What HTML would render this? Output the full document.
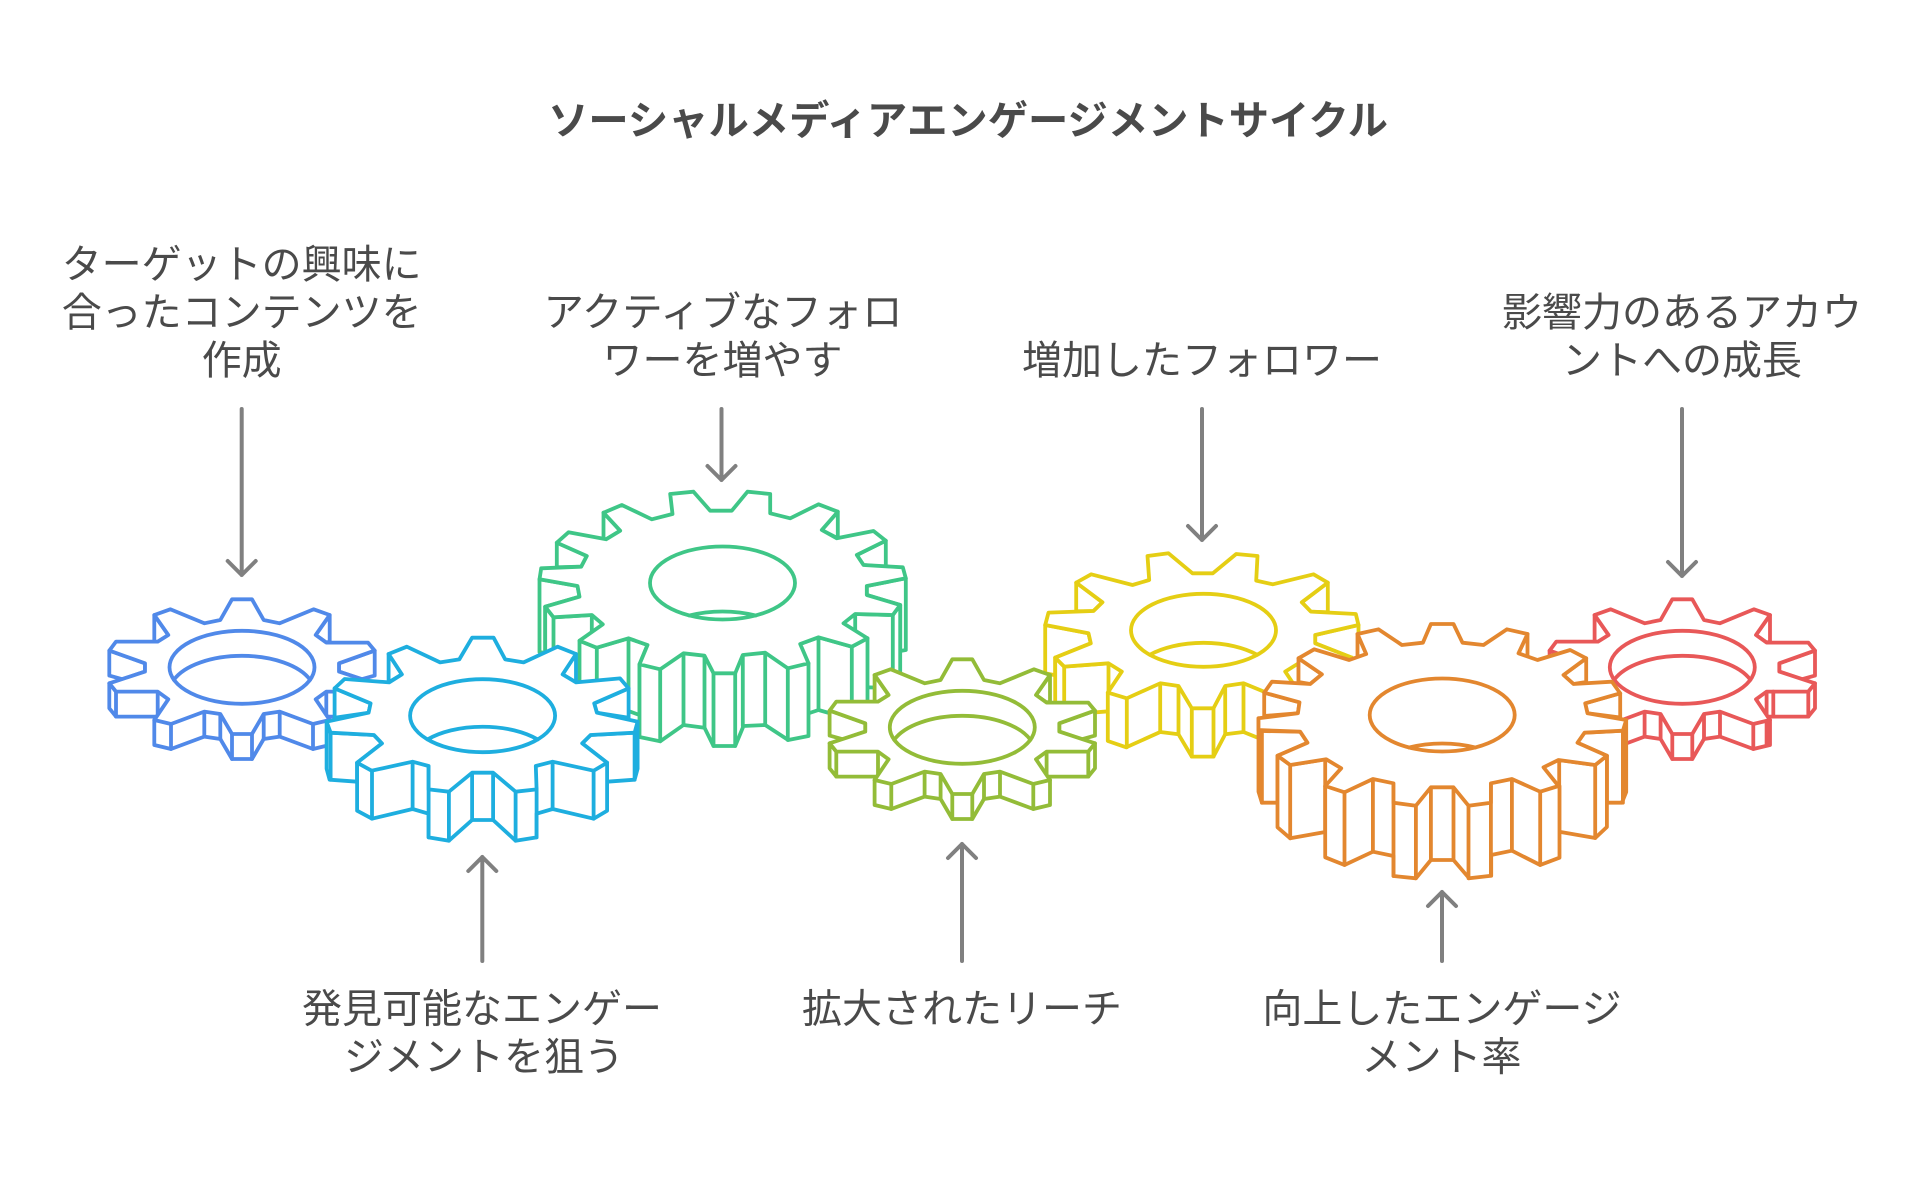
<!DOCTYPE html>
<html lang="ja"><head><meta charset="utf-8"><style>
html,body{margin:0;padding:0;background:#fff;width:1924px;height:1181px;overflow:hidden}
svg{display:block}
text{font-family:"Liberation Sans","Noto Sans CJK JP",sans-serif;font-size:40px;fill:#4a4a4a;text-anchor:middle}
.g path,.g ellipse,#sg path,#sg ellipse{fill:#fff;stroke:currentColor;stroke-width:3.8;stroke-linejoin:round;stroke-linecap:round}
.g path.v,.g path.a,#sg path.v,#sg path.a{fill:none}
.ar path{fill:none;stroke:#808080;stroke-width:4;stroke-linecap:round;stroke-linejoin:round}
</style></head><body>
<svg width="1924" height="1181" viewBox="0 0 1924 1181" xmlns="http://www.w3.org/2000/svg">
<rect width="1924" height="1181" fill="#fff"/>
<defs>
<g id="sg">
<path d="M-132.7,-16.7V8.3L-119.3,12L-97,4.3V-4Z"/>
<path d="M132.7,-16.7V8.3L119.3,12L97,4.3V-4Z"/>
<path d="M-87.7,-52.3V-25.7L-84.3,-24.7L-73.7,-32.3Z"/>
<path d="M87.7,-52.3V-25.7L84.3,-24.7L73.7,-32.3Z"/>
<path d="M-132.7,16V41L-126,49.3H-84.3V24.3H-126Z"/>
<path d="M132.7,16V41L126,49.3H84.3V24.3H126Z"/>
<path class="v" d="M-126,24.3V49.3M126,24.3V49.3"/>
<path d="M-87.7,52.7V77.7L-71,81.7L-37.7,69.3L-21.7,71.7L-10,91.7H10L21.7,71.7L37.7,69.3L71,81.7L87.7,77.7V52.7L0,0Z"/>
<path class="v" d="M-71,56.7V81.7M-37.7,44.3V69.3M-21.7,46.7V71.7M-10,66.7V91.7M10,66.7V91.7M21.7,46.7V71.7M37.7,44.3V69.3M71,56.7V81.7"/>
<path d="M-10,-68H10L21.7,-47.3L37.7,-44L71.7,-58L87.7,-52.3L73.7,-32.3L84.3,-24.7H126L132.7,-16.7L97,-4V4.3L132.7,16L126,24.3H84.3L73.7,32L87.7,52.7L71,56.7L37.7,44.3L21.7,46.7L10,66.7H-10L-21.7,46.7L-37.7,44.3L-71,56.7L-87.7,52.7L-73.7,32L-84.3,24.3H-126L-132.7,16L-97,4.3V-4L-132.7,-16.7L-126,-25.7H-84.3L-73.7,-32.3L-87.7,-52.3L-71.7,-58L-37.7,-44L-21.7,-47.3Z"/>
<ellipse rx="72.5" ry="36.5"/>
<path class="a" d="M-68.1,12.5A72.5,36.5 0 0 1 68.1,12.5"/>
</g>
</defs>

<!-- blue -->
<g class="g" color="#5089E9" transform="translate(242,667.3)"><use href="#sg"/></g>

<!-- green -->
<g class="g" color="#3FC687" transform="translate(722.5,583)">
<path d="M-165.7,-40.3V-15.7L-141.3,-16.3L-135.7,-27Z"/>
<path d="M163.3,-42.3V-16L141,-18L134.3,-28Z"/>
<path d="M-119,-70.3V-44L-116.3,-43.7L-102.3,-52.3Z"/>
<path d="M115.3,-71.3V-44.7L99.3,-53Z"/>
<path d="M-183,-3.7V69L-177.3,70V23.7L-143,13.7L-145,3Z"/>
<path d="M183.3,-4.7V67L177.7,68V22L144.3,12V3Z"/>
<path d="M-177.3,23.7V96.4L-169,107L-130.7,105V32L-169,34.3Z"/>
<path class="v" d="M-169,34.3V107"/>
<path d="M177.7,22V95L170.3,105L132.7,104V31L170.3,32Z"/>
<path class="v" d="M170.3,32V105"/>
<path d="M-143,57.7V130.4L-125.7,137.4L-94,128L-83,132V81.3L-75,62L-94,55.3L-125.7,64.7Z"/>
<path class="v" d="M-125.7,64.7V137.4M-94,55.3V128"/>
<path d="M145,55.3V128L129.3,136.4L96,127L84,131V80L77.7,61L96,54.3L129.3,63.7Z"/>
<path class="v" d="M129.3,63.7V136.4M96,54.3V127"/>
<path d="M-83,81.3V154L-62.3,158.3L-39,142L-18,144.7L-9,163H12.7L21,143L42.7,142L65.7,157L86,153V80.3L0,0Z"/>
<path class="v" d="M-62.3,86.3V158.3M-39,70.3V142M-18,72.7V144.7M-9,90.3V163M12.7,90.3V163M20.3,72V143M42.7,69.7V142M65.3,85.3V157"/>
<path d="M-12.3,-72.3H9.3L25,-91.3L47.7,-89V-69.7L67.7,-64.7L96,-78.7L115.3,-71.3L99.3,-53L114.3,-44.7L151,-52L163.3,-42.3L134.3,-28L141,-18L180.3,-15.7L183.3,-4.7L144.3,3V12L177.7,22L170.3,32L132.7,31L121,40.3L145,55.3L129.3,63.7L96,54.3L77.7,61L86,80.3L65.3,85.3L42.7,69.7L20.3,72L12.7,90.3H-9L-18,72.7L-39,70.3L-62.3,86.3L-83,81.3L-75,62L-94,55.3L-125.7,64.7L-143,57.7L-119.7,41.3L-130.7,32L-169,34.3L-177.3,23.7L-143,13.7L-145,3L-183,-3.7L-181.3,-14.7L-141.3,-16.3L-135.7,-27L-165.7,-40.3L-154,-50.7L-116.3,-43.7L-102.3,-52.3L-119,-70.3L-100.7,-78L-70.7,-63.7L-50,-69L-52.3,-89L-29,-91.3Z"/>
<ellipse rx="72.5" ry="36.5"/>
<path class="a" d="M-33,32.5A72.5,36.5 0 0 1 33,32.5"/>
</g>

<!-- yellow -->
<g class="g" color="#E5CE14" transform="translate(1203.5,630.3)">
<path d="M-127.3,-47.7V-19L-110,-19.3L-101,-28Z"/>
<path d="M124.3,-47.7V-18L107.3,-18.7L98.3,-28Z"/>
<path d="M-158.3,-5.3V43L-148.3,45V27.3L-112.7,13L-115,3Z"/>
<path d="M155,-5.3V43L148.3,45V27.3L111.7,13V4.7Z"/>
<path d="M-148.3,27.3V75.6L-139.3,84.6L-95,81V33L-139.3,36.3Z"/>
<path class="v" d="M-139.3,36.3V84.6"/>
<path d="M148.3,27.3V75.6L139.3,84.6L95,81V33L139.3,36.3Z"/>
<path class="v" d="M139.3,36.3V84.6"/>
<path d="M-95.7,62.3V110.7L-77.3,117L-43.3,101.7L-25,104L-11.7,126.3H10L21.7,104L40,101.7L76.7,116.5L95.7,110.7V62.3L0,0Z"/>
<path class="v" d="M-76.7,68V117M-43.3,53V101.7M-25,55.7V104M-11.7,78V126.3M10,78V126.3M21.7,55.7V104M40,53V101.7M76.7,68V116.5"/>
<path d="M-11,-57H9.3L32.7,-76.3L54,-74.3L52.7,-49.7L69.3,-46L110,-56L124.3,-47.7L98.3,-28L107.3,-18.7L152.3,-16.3L155,-5.3L111.7,4.7V13L148.3,27.3L139.3,36.3L95,33L81.7,41.3L95.7,62.3L76.7,68L40,53L21.7,55.7L10,78H-11.7L-25,55.7L-43.3,53L-76.7,68L-95.7,62.3L-81.7,41.3L-95,33L-139.3,36.3L-148.3,27.3L-112.7,13L-115,3L-158.3,-5.3L-155,-17.7L-110,-19.3L-101,-28L-127.3,-47.7L-112.3,-56L-71,-45.3L-54.3,-50.3L-56,-74.3L-35,-77Z"/>
<ellipse rx="72.5" ry="36.5"/>
<path class="a" d="M-53.7,24.5A72.5,36.5 0 0 1 53.7,24.5"/>
</g>

<!-- red -->
<g class="g" color="#E85858" transform="translate(1682.3,667.3)">
<use href="#sg"/>
<path class="v" d="M91,24.3V49.3M84.3,54V78"/>
</g>

<!-- cyan -->
<g class="g" color="#1EAEDF" transform="translate(482.6,715.7)">
<path d="M-148,-27.3V2L-114,-3L-112,-12.3Z"/>
<path d="M146,-27.3V2L114.3,-3L111.6,-12.3Z"/>
<path d="M-94,-61.7V-33.3L-80.7,-41.3Z"/>
<path d="M93.4,-61.7V-33.3L80,-41.3Z"/>
<path d="M-156,6V53L-153,64L-125.5,66V47L-100.6,27.7L-108.7,19.3L-152,17Z"/>
<path class="v" d="M-152,17V64"/>
<path d="M155,6V53L152,64L124.5,66V47L99.6,27.7L108,19.3L152,17Z"/>
<path class="v" d="M152,17V64"/>
<path d="M-125.5,47V95L-110.6,103L-70,93.3L-54,98V121.7L-33.7,125L-10.5,104.3H10.5L33,125L54,121.7V98L70,93.3L111,103L124.5,95V47L0,0Z"/>
<path class="v" d="M-110.6,55V103M-70,46V93.3M-54,50V121.7M-33.7,76V125M-10.5,57V104.3M10.5,57V104.3M33,76V125M54,73V121.7M70,46V93.3M111,55V103"/>
<path d="M-10.5,-78H11L22.6,-56.3L41,-53.3L75,-69L93.4,-61.7L80,-41.3L93.4,-33.3L137.4,-37.3L146,-27.3L111.6,-12.3L114.3,-3L155,6L152,17L108,19.3L99.6,27.7L124.5,47L111,55L70,46L53.2,50.3L54,73.7L33,76L10.5,57H-10.5L-33.7,76L-54,73.7V50.3L-70,46L-111,55L-125.5,47L-100.6,27.7L-108.7,19.3L-152,17L-156,6L-114,-3L-112,-12.3L-148,-27.3L-138,-36.7L-93.4,-33.3L-80.7,-41.3L-94,-61.7L-75.8,-69L-42.5,-53.3L-23.3,-56.3Z"/>
<ellipse rx="72.5" ry="36.5"/>
<path class="a" d="M-55,23.75A72.5,36.5 0 0 1 55,23.75"/>
</g>

<!-- olive -->
<g class="g" color="#93BC38" transform="translate(962.3,727.3)"><use href="#sg"/></g>

<!-- orange -->
<g class="g" color="#E3872F" transform="translate(1442.2,715)">
<path d="M-178,-22.3V1L-144.3,-1.7L-142.7,-12.7Z"/>
<path d="M178,-21.7V2.5L145.3,-1.7L143,-11.7Z"/>
<path d="M-143.7,-56.7V-33L-132,-31L-120.3,-40.7Z"/>
<path d="M144,-56.7V-33L131.3,-31L121.3,-40Z"/>
<path d="M-84.7,-81V-56L-76,-61Z"/>
<path d="M85.3,-81V-56L76.3,-61.7Z"/>
<path d="M-183.7,3.3V76.7L-180.3,87.7H-164.7V40.7L-134.7,27.7L-142,16.7L-180.3,16L-183.7,15Z"/>
<path class="v" d="M-180.3,16V87.7"/>
<path d="M184,5V77L179.7,87.7H164.7V40.7L135.3,27.7L142.3,17.7L180.7,15.7Z"/>
<path class="v" d="M180.7,15.7V87.7"/>
<path d="M-164.7,40.7V112.3L-152,123.3L-117,117V44.3L-152,50Z"/>
<path class="v" d="M-152,50V123.3"/>
<path d="M164.7,40.7V112L153,123L117,116.7V45L153,50Z"/>
<path class="v" d="M153,50V123"/>
<path d="M-117,71V142.3L-97.7,150L-69.3,136.7L-48.7,141V161L-26.3,163.3L-11.3,145H11.3L27,163.3L49,160.7V140L69.7,135.7L98,150L117.3,142.7V71L0,0Z"/>
<path class="v" d="M-97.7,77.3V150M-69.3,64V136.7M-48.7,68V161M-26.3,90.7V163.3M-11.3,72.3V145M11.3,72.3V145M26.3,90.7V163.3M48.7,68V160.7M69.7,64V135.7M98,76.7V150"/>
<path d="M-11.3,-91H11.3L20.3,-72.3L41.3,-70L64.7,-85.7L85.3,-81L76.3,-61.7L95.3,-55L128,-65L144,-56.7L121.3,-40L131.3,-31L169.7,-33.3L178,-21.7L143,-11.7L145.3,-1.7L184,5L180.7,15.7L142.3,17.7L135.3,27.7L164.7,40.7L153,50L116.3,45L101.3,52.3L116.3,71L98,76.7L69.7,64L48.7,68.3V87.7L26.3,90.7L11.3,72.3H-11.3L-26.3,90.7L-48.7,87.7V68.3L-69.3,64L-97.7,77.3L-117,71L-101,53.3L-116,44.3L-152,50L-164.7,40.7L-134.7,27.7L-142,16.7L-183.7,15V3.3L-144.3,-1.7L-142.7,-12.7L-178,-22.3L-170.3,-33.3L-132,-31L-120.3,-40.7L-143.7,-56.7L-128,-65.7L-93,-55L-76,-61L-84.7,-81L-63.7,-85.7L-40.3,-70L-19.3,-72.3Z"/>
<ellipse rx="72.5" ry="36.5"/>
<path class="a" d="M-33,32.5A72.5,36.5 0 0 1 33,32.5"/>
</g>

<!-- arrows -->
<g class="ar">
<path d="M241.7,409V575M227.7,561L241.7,575L255.7,561"/>
<path d="M721.5,409V480M707.5,466L721.5,480L735.5,466"/>
<path d="M1202,409V540M1188,526L1202,540L1216,526"/>
<path d="M1682,409V576M1668,562L1682,576L1696,562"/>
<path d="M482.3,961V857M468.3,871L482.3,857L496.3,871"/>
<path d="M962,961V844M948,858L962,844L976,858"/>
<path d="M1442,961V892M1428,906L1442,892L1456,906"/>
</g>

<!-- text -->
<text x="968" y="134.5" font-weight="700" style="font-size:40.3px">ソーシャルメディアエンゲージメントサイクル</text>
<text x="241.7" y="278">ターゲットの興味に</text>
<text x="241.7" y="326">合ったコンテンツを</text>
<text x="241.7" y="374">作成</text>
<text x="723" y="326" style="font-size:40.4px">アクティブなフォロ</text>
<text x="722.5" y="374">ワーを増やす</text>
<text x="1202" y="374">増加したフォロワー</text>
<text x="1682" y="326">影響力のあるアカウ</text>
<text x="1682" y="374">ントへの成長</text>
<text x="482" y="1022.5">発見可能なエンゲー</text>
<text x="484" y="1070.5">ジメントを狙う</text>
<text x="962" y="1022.5">拡大されたリーチ</text>
<text x="1442" y="1022.5">向上したエンゲージ</text>
<text x="1441.5" y="1070.5">メント率</text>
</svg>
</body></html>
